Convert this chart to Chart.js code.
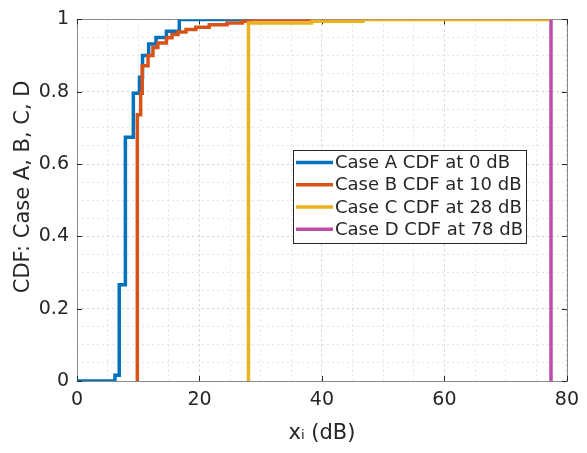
<!DOCTYPE html>
<html>
<head>
<meta charset="utf-8">
<script src="https://cdn.jsdelivr.net/npm/chart.js@4.4.1/dist/chart.umd.min.js"></script>
<style>
html, body { margin: 0; padding: 0; background: #fff; }
</style>
</head>
<body>
<canvas id="myChart" width="587" height="453"></canvas>
<script>
// step positions (dB) and CDF levels
const caseAx = [0, 6.2, 6.9, 7.9, 9.2, 10.2, 10.7, 11.7, 12.9, 14.6, 16.7, 28.5];
const caseAy = [0, 0.016, 0.266, 0.674, 0.796, 0.84, 0.9, 0.932, 0.95, 0.967, 1.0, 1.0];

const caseBx = [9.85, 9.85, 10.4, 10.65, 11.6, 12.4, 13.2, 14.6, 15.5, 16.5, 17.8, 19.4, 21.6, 24.5, 27, 28.2, 38.3];
const caseBy = [0, 0.736, 0.796, 0.872, 0.9, 0.922, 0.935, 0.949, 0.958, 0.965, 0.972, 0.978, 0.985, 0.99, 0.995, 1.0, 1.0];

const caseCx = [28.0, 28.0, 38.3, 46.7, 77.4];
const caseCy = [0, 0.99, 0.995, 1.0, 1.0];

const caseDx = [77.4, 77.4];
const caseDy = [0, 1.0];

const seriesLabels = [
    "Case A CDF at 0 dB",
    "Case B CDF at 10 dB",
    "Case C CDF at 28 dB",
    "Case D CDF at 78 dB",
];
const seriesColors = ["#0072BD", "#D95319", "#EDB120", "#C04CA8"];

const xTickLabels = [0, 20, 40, 60, 80];
const yTickLabels = ["0", "0.2", "0.4", "0.6", "0.8", "1"];

const textColor = "#262626";

function toPoints(xs, ys) {
    return xs.map((x, i) => ({ x: x, y: ys[i] }));
}

function isMajorY(v) {
    return Math.abs(v * 5 - Math.round(v * 5)) < 1e-6;
}

const seriesX = [caseAx, caseBx, caseCx, caseDx];
const seriesY = [caseAy, caseBy, caseCy, caseDy];

const datasets = seriesLabels.map((label, i) => ({
    label: label,
    data: toPoints(seriesX[i], seriesY[i]),
    borderColor: seriesColors[i],
    backgroundColor: seriesColors[i],
    borderWidth: 3.5,
    pointRadius: 0,
    stepped: "before",
    fill: false,
    order: seriesLabels.length - i, // later series drawn on top, like matlab
}));

// box round the axes + inward ticks + legend box
const framePlugin = {
    id: "frame",
    beforeDatasetsDraw(chart) {
        const { ctx, chartArea: a, scales } = chart;
        ctx.save();
        ctx.strokeStyle = "#8a8a8a";
        ctx.lineWidth = 1;
        ctx.strokeRect(Math.round(a.left) + 0.5, Math.round(a.top) + 0.5,
            Math.round(a.right - a.left), Math.round(a.bottom - a.top));
        ctx.strokeStyle = textColor;
        ctx.beginPath();
        xTickLabels.forEach(v => {
            const px = Math.round(scales.x.getPixelForValue(v)) + 0.5;
            ctx.moveTo(px, a.bottom);
            ctx.lineTo(px, a.bottom - 5);
            ctx.moveTo(px, a.top);
            ctx.lineTo(px, a.top + 5);
        });
        yTickLabels.forEach(t => {
            const py = Math.round(scales.y.getPixelForValue(parseFloat(t))) + 0.5;
            ctx.moveTo(a.left, py);
            ctx.lineTo(a.left + 5, py);
            ctx.moveTo(a.right, py);
            ctx.lineTo(a.right - 5, py);
        });
        ctx.stroke();
        ctx.restore();
    },
    afterDraw(chart) {
        const { ctx, chartArea: a } = chart;
        const left = a.left + 216, top = a.top + 131;
        const w = 233, h = 93, rowH = 22.3;
        ctx.save();
        ctx.fillStyle = "#fff";
        ctx.fillRect(left, top, w, h);
        ctx.strokeStyle = "#262626";
        ctx.lineWidth = 1;
        ctx.strokeRect(Math.round(left) + 0.5, Math.round(top) + 0.5, w, h);
        ctx.font = "18px 'DejaVu Sans'";
        ctx.textBaseline = "middle";
        ctx.textAlign = "left";
        chart.data.datasets.forEach((ds, i) => {
            const cy = top + 12 + i * rowH;
            ctx.strokeStyle = ds.borderColor;
            ctx.lineWidth = 3.5;
            ctx.beginPath();
            ctx.moveTo(left + 3, cy);
            ctx.lineTo(left + 40, cy);
            ctx.stroke();
            ctx.fillStyle = textColor;
            ctx.fillText(ds.label, left + 42, cy + 1);
        });
        ctx.restore();
    },
};

const config = {
    type: "line",
    data: { datasets: datasets },
    options: {
        responsive: false,
        animation: false,
        layout: { padding: { top: 13, right: 17, bottom: 0, left: 0 } },
        plugins: {
            legend: { display: false },
            tooltip: { enabled: false },
        },
        scales: {
            x: {
                type: "linear",
                min: 0,
                max: 80,
                afterFit: scale => { scale.height = 72; },
                border: { display: false, dash: [2, 3] },
                grid: {
                    drawTicks: false,
                    color: c => (c.tick.value % 20 === 0 ? "#cfcfcf" : "#e4e4e4"),
                },
                ticks: {
                    stepSize: 5,
                    autoSkip: false,
                    maxRotation: 0,
                    padding: 8,
                    color: textColor,
                    font: { family: "DejaVu Sans", size: 19 },
                    callback: v => (xTickLabels.includes(v) ? String(v) : ""),
                },
                title: {
                    display: true,
                    text: "x\u1D62 (dB)",
                    color: textColor,
                    font: { family: "DejaVu Sans", size: 21 },
                    padding: { top: 0, bottom: 7 },
                },
            },
            y: {
                type: "linear",
                min: 0,
                max: 1,
                afterFit: scale => { scale.width = 77; },
                border: { display: false, dash: [2, 3] },
                grid: {
                    drawTicks: false,
                    color: c => (isMajorY(c.tick.value) ? "#cfcfcf" : "#e4e4e4"),
                },
                ticks: {
                    stepSize: 0.05,
                    autoSkip: false,
                    padding: 8,
                    color: textColor,
                    font: { family: "DejaVu Sans", size: 19 },
                    callback: v => {
                        const s = String(Math.round(v * 10) / 10);
                        return isMajorY(v) && yTickLabels.includes(s) ? s : "";
                    },
                },
                title: {
                    display: true,
                    text: "\u00A0\u00A0\u00A0\u00A0CDF: Case A, B, C, D",
                    color: textColor,
                    font: { family: "DejaVu Sans", size: 21 },
                    padding: { top: 11, bottom: 0 },
                },
            },
        },
    },
    plugins: [framePlugin],
};

new Chart(document.getElementById("myChart"), config);
</script>
</body>
</html>
